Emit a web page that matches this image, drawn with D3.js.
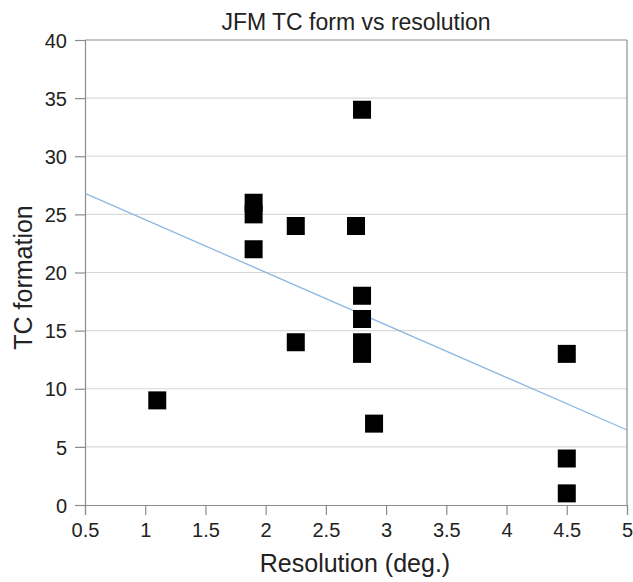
<!DOCTYPE html>
<html>
<head>
<meta charset="utf-8">
<script src="https://cdn.jsdelivr.net/npm/d3@7/dist/d3.min.js"></script>
<style>
  html, body { margin: 0; padding: 0; background: #fff; }
  svg { display: block; font-family: "Liberation Sans", Arial, sans-serif; }
</style>
</head>
<body>
<svg id="chart" width="633" height="582"></svg>
<script>
// Data
const resolution = [1.1, 1.9, 1.9, 1.9, 2.25, 2.25, 2.75, 2.8, 2.8, 2.8, 2.8, 2.8, 2.9, 4.5, 4.5, 4.5];
const tcFormation = [9, 26, 25, 22, 24, 14, 24, 34, 18, 16, 14, 13, 7, 13, 4, 1];
const xTicks = [0.5, 1, 1.5, 2, 2.5, 3, 3.5, 4, 4.5, 5];
const yTicks = [0, 5, 10, 15, 20, 25, 30, 35, 40];
const titleText = "JFM TC form vs resolution";
const xTitle = "Resolution (deg.)";
const yTitle = "TC formation";

const W = 633, H = 582;
const margin = { left: 85, right: 6, top: 40, bottom: 77 };
const pw = W - margin.left - margin.right;
const ph = H - margin.top - margin.bottom;

const svg = d3.select("#chart");
const g = svg.append("g").attr("transform", `translate(${margin.left},${margin.top})`);

const x = d3.scaleLinear().domain([0.5, 5]).range([0, pw]);
const y = d3.scaleLinear().domain([0, 40]).range([ph, 0]);

// gridlines
g.append("g").selectAll("line").data(yTicks.filter(d => d > 0 && d < 40)).join("line")
  .attr("x1", 0).attr("x2", pw)
  .attr("y1", d => y(d)).attr("y2", d => y(d))
  .attr("stroke", "#d9d9d9").attr("stroke-width", 1.2);

// frame (top & right)
g.append("line").attr("x1", 0).attr("x2", pw).attr("y1", 0).attr("y2", 0)
  .attr("stroke", "#8c8c8c").attr("stroke-width", 1.2);
g.append("line").attr("x1", pw).attr("x2", pw).attr("y1", 0).attr("y2", ph)
  .attr("stroke", "#8c8c8c").attr("stroke-width", 1.2);

// axes
const xAxis = g.append("g").attr("transform", `translate(0,${ph})`)
  .call(d3.axisBottom(x).tickValues(xTicks).tickFormat(d3.format("")).tickSize(10).tickPadding(6));
const yAxis = g.append("g")
  .call(d3.axisLeft(y).tickValues(yTicks).tickSize(10).tickPadding(8));
[xAxis, yAxis].forEach(a => {
  a.select(".domain").attr("stroke", "#8c8c8c").attr("stroke-width", 1.2);
  a.selectAll(".tick line").attr("stroke", "#8c8c8c").attr("stroke-width", 1.2);
  a.selectAll(".tick text").attr("fill", "#222").style("font-size", "20px")
    .style("font-family", "'Liberation Sans', Arial, sans-serif");
});
xAxis.selectAll(".tick text").attr("dy", "0.78em");
yAxis.selectAll(".tick text").attr("dy", "0.36em");

// regression trend line
const mx = d3.mean(resolution), my = d3.mean(tcFormation);
let sxy = 0, sxx = 0;
resolution.forEach((xv, i) => { sxy += (xv - mx) * (tcFormation[i] - my); sxx += (xv - mx) ** 2; });
const slope = sxy / sxx, intercept = my - slope * mx;
const ends = x.domain();
g.append("line")
  .attr("x1", x(ends[0])).attr("y1", y(intercept + slope * ends[0]))
  .attr("x2", x(ends[1])).attr("y2", y(intercept + slope * ends[1]))
  .attr("stroke", "#8bb8e3").attr("stroke-width", 1.3);

// markers
const s = 18;
g.append("g").selectAll("rect").data(resolution.map((r, i) => [r, tcFormation[i]])).join("rect")
  .attr("x", d => x(d[0]) - s / 2).attr("y", d => y(d[1]) - s / 2)
  .attr("width", s).attr("height", s).attr("fill", "#000");

// titles
svg.append("text").attr("x", margin.left + pw / 2).attr("y", 30)
  .attr("text-anchor", "middle").style("font-size", "23px").attr("fill", "#222").text(titleText);
svg.append("text").attr("x", margin.left + pw / 2 - 1).attr("y", 572)
  .attr("text-anchor", "middle").style("font-size", "25px").attr("fill", "#222").text(xTitle);
svg.append("text").attr("transform", `translate(32,${margin.top + ph / 2 + 5}) rotate(-90)`)
  .attr("text-anchor", "middle").style("font-size", "25px").attr("fill", "#222").text(yTitle);
</script>
</body>
</html>
